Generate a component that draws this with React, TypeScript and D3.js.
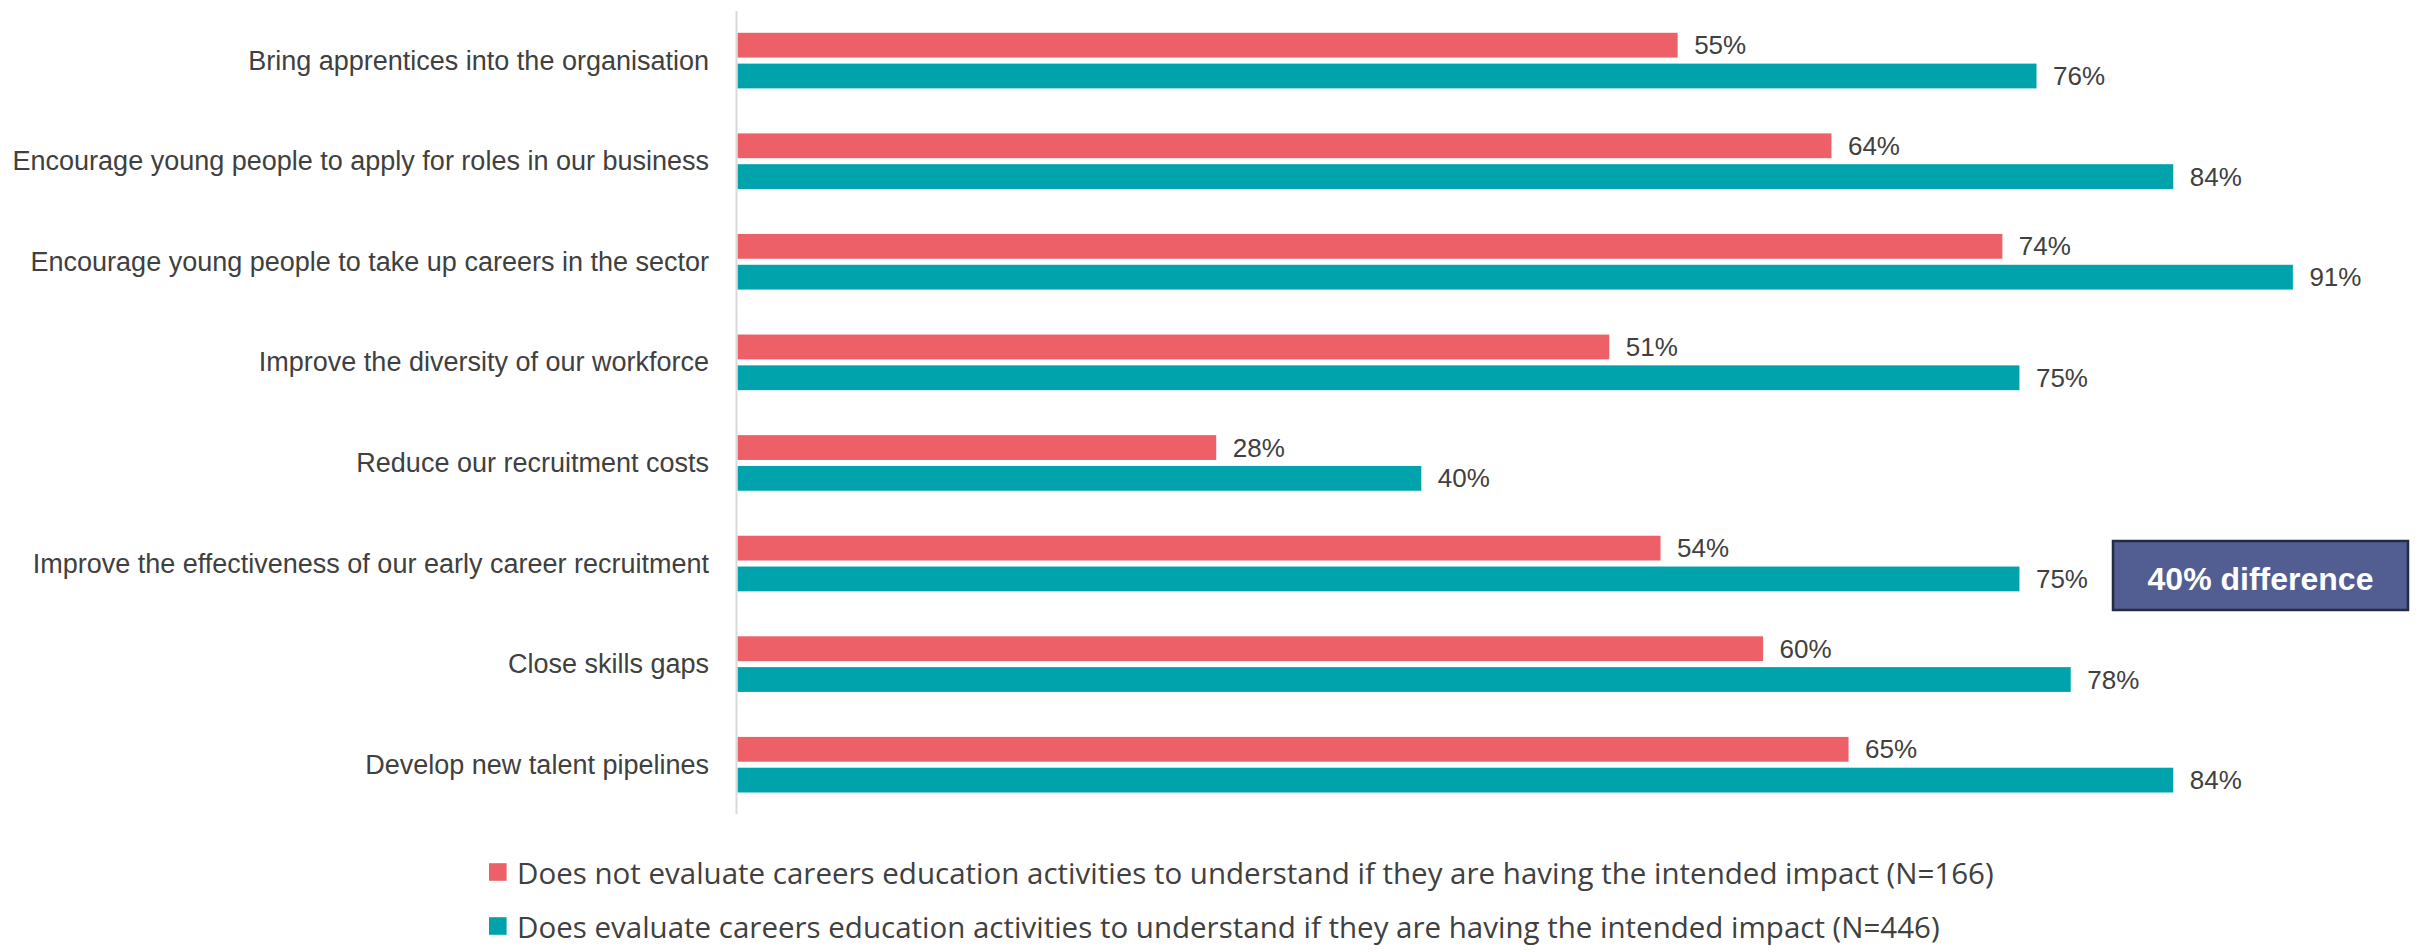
import React, { useEffect } from "react";
import * as d3 from "d3";

const categories = [
  "Bring apprentices into the organisation",
  "Encourage young people to apply for roles in our business",
  "Encourage young people to take up careers in the sector",
  "Improve the diversity of our workforce",
  "Reduce our recruitment costs",
  "Improve the effectiveness of our early career recruitment",
  "Close skills gaps",
  "Develop new talent pipelines",
];

const notEvaluate = [55, 64, 74, 51, 28, 54, 60, 65];
const doesEvaluate = [76, 84, 91, 75, 40, 75, 78, 84];

const seriesNames = [
  "Does not evaluate careers education activities to understand if they are having the intended impact (N=166)",
  "Does evaluate careers education activities to understand if they are having the intended impact (N=446)",
];
const seriesKeys = ["not", "does"];
const seriesColors = ["#ED6068", "#00A3AC"];

const annotationText = "40% difference";
const annotationCategory = "Improve the effectiveness of our early career recruitment";

const W = 2420;
const H = 952;
const FONT = "'Liberation Sans', Arial, sans-serif";
const LEGEND_FONT = "'Open Sans', 'Liberation Sans', sans-serif";

export default function App() {
  useEffect(() => {
    document.body.style.margin = "0";
  }, []);

  const x = d3.scaleLinear().domain([0, 100]).range([737.7, 737.7 + 1709]);
  const y = d3.scaleBand<string>().domain(categories).range([10.3, 815]).padding(0);
  const groupH = 55.6;
  const inner = d3
    .scaleBand<string>()
    .domain(seriesKeys)
    .range([0, groupH])
    .paddingInner(0.195);

  const values = [notEvaluate, doesEvaluate];

  const annY = (y(annotationCategory) ?? 0) + y.bandwidth() / 2;

  return (
    <svg width={W} height={H} style={{ display: "block", background: "#fff" }}>
      <line x1={736.5} x2={736.5} y1={11} y2={814} stroke="#D9D9D9" strokeWidth={2} />

      {categories.map((c, i) => {
        const cy = (y(c) ?? 0) + y.bandwidth() / 2;
        const top = cy - groupH / 2;
        return (
          <g key={c}>
            <text
              x={709}
              y={cy}
              textAnchor="end"
              dominantBaseline="central"
              fontFamily={FONT}
              fontSize={27}
              fill="#404040"
            >
              {c}
            </text>
            {seriesKeys.map((k, s) => {
              const v = values[s][i];
              const by = top + (inner(k) ?? 0);
              return (
                <g key={k}>
                  <rect
                    x={x(0)}
                    y={by}
                    width={x(v) - x(0)}
                    height={inner.bandwidth()}
                    fill={seriesColors[s]}
                  />
                  <text
                    x={x(v) + 16.5}
                    y={by + inner.bandwidth() / 2}
                    dominantBaseline="central"
                    fontFamily={FONT}
                    fontSize={26}
                    fill="#404040"
                  >
                    {`${v}%`}
                  </text>
                </g>
              );
            })}
          </g>
        );
      })}

      <g>
        <rect
          x={2113}
          y={541}
          width={295}
          height={69}
          fill="#525E91"
          stroke="#232B45"
          strokeWidth={2.5}
        />
        <text
          x={2260.5}
          y={annY + 15.5}
          textAnchor="middle"
          dominantBaseline="central"
          fontFamily={FONT}
          fontWeight="bold"
          fontSize={32}
          fill="#FFFFFF"
        >
          {annotationText}
        </text>
      </g>

      {seriesNames.map((name, s) => {
        const ly = 872 + s * 54;
        return (
          <g key={name}>
            <rect x={489} y={ly - 8.8} width={17.6} height={17.6} fill={seriesColors[s]} />
            <text
              x={517}
              y={ly}
              dominantBaseline="central"
              fontFamily={LEGEND_FONT}
              fontSize={29.5}
              fill="#404040"
            >
              {name}
            </text>
          </g>
        );
      })}
    </svg>
  );
}
